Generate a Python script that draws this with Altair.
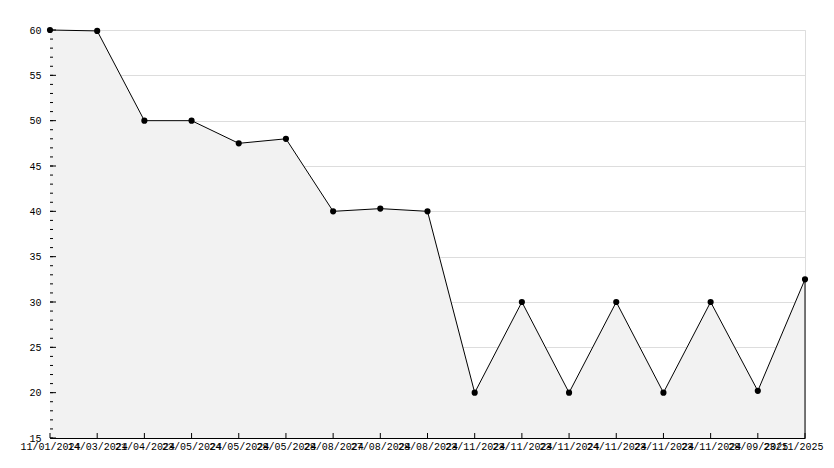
import altair as alt
import pandas as pd

labels = ["11/01/2024", "14/03/2024", "21/04/2024", "23/05/2024", "24/05/2024",
          "28/05/2024", "28/08/2024", "27/08/2024", "28/08/2024", "23/11/2024",
          "23/11/2024", "23/11/2024", "24/11/2024", "23/11/2024", "23/11/2024",
          "28/09/2025", "23/11/2025"]
values = [60, 59.9, 50, 50, 47.5, 48, 40, 40.3, 40, 20, 30, 20, 30, 20, 30, 20.2, 32.5]
y_major = [15, 20, 25, 30, 35, 40, 45, 50, 55, 60]
y_minor = list(range(15, 61))
idx = list(range(len(values)))
df = pd.DataFrame({"i": idx, "v": values})
df_major = pd.DataFrame({"t": y_major})
df_minor = pd.DataFrame({"t": y_minor})

W, H = 755, 408
FONT = "Liberation Mono"
LAST = len(values) - 1
xscale = alt.Scale(domain=[0, LAST], nice=False, zero=False)
yscale = alt.Scale(domain=[15, 60], nice=False, zero=False)
label_expr = "[" + ",".join(f"'{l}'" for l in labels) + "][datum.value]"

base = alt.Chart(df)

xaxis = alt.Axis(
    values=idx, labelExpr=label_expr, ticks=False,
    grid=False, domainColor="black", labelFont=FONT, labelFontSize=10,
    labelColor="black", labelPadding=3, title=None, labelOverlap=False,
    labelFlush=False, labelBound=False,
    labelOffset={"condition": {"test": f"datum.value == {LAST}", "value": -12}, "value": 0})
yaxis = alt.Axis(
    values=y_major, ticks=False, grid=True, gridColor="#dddddd",
    domainColor="black", labelFont=FONT, labelFontSize=10, labelColor="black",
    labelPadding=9, title=None, labelOverlap=False)

area = base.mark_area(color="#f2f2f2", opacity=1).encode(
    x=alt.X("i:Q", scale=xscale, axis=xaxis),
    y=alt.Y("v:Q", scale=yscale, axis=yaxis),
    y2=alt.datum(15),
)
line = base.mark_line(color="black", strokeWidth=1).encode(x="i:Q", y="v:Q")
pts = base.mark_point(shape="circle", filled=True, color="black", size=38, opacity=1).encode(
    x="i:Q", y="v:Q")
edge = base.transform_filter(f"datum.i == {LAST}").mark_rule(color="black").encode(
    x="i:Q", y="v:Q", y2=alt.datum(15))

xticks = base.mark_rule(color="black").encode(
    x="i:Q", y=alt.value(H), y2=alt.value(H - 5))
ymajor = alt.Chart(df_major).mark_rule(color="black").encode(
    y=alt.Y("t:Q"), x=alt.value(0), x2=alt.value(6))
yminor = alt.Chart(df_minor).mark_rule(color="black").encode(
    y=alt.Y("t:Q"), x=alt.value(0), x2=alt.value(3))

chart = alt.layer(area, line, pts, edge, xticks, yminor, ymajor).properties(
    width=W, height=H,
    autosize=alt.AutoSizeParams(type="none"),
    padding={"left": 42, "top": 22, "right": 21, "bottom": 22},
).configure_view(stroke=None).configure(background="white")

chart.save("out.html", embed_options={"renderer": "svg", "actions": False})
